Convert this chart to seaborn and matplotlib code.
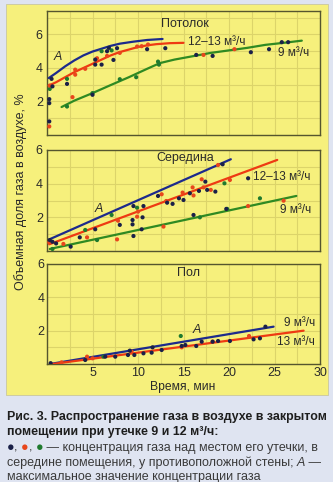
import numpy as np
import pandas as pd
import matplotlib
matplotlib.use("Agg")
import matplotlib.pyplot as plt
import seaborn as sns
from matplotlib.patches import Rectangle
from matplotlib.ticker import MultipleLocator

sns.set_theme(style="white")
plt.rcParams['font.family'] = ['Liberation Sans', 'DejaVu Sans']

# ---------------- data ----------------
# Top panel (Потолок) fitted curves
top_blue_x = [0.2, 1, 2, 3, 4, 5, 6, 7, 8, 9.5, 11, 12.7]
top_blue_y = [3.4, 3.7, 4.1, 4.45, 4.75, 4.98, 5.15, 5.32, 5.45, 5.57, 5.67, 5.73]
top_red_x = [0.2, 1, 2, 3, 4, 5, 6, 7, 8, 9, 10, 11, 12, 13.5, 15]
top_red_y = [2.95, 3.15, 3.45, 3.75, 4.0, 4.25, 4.5, 4.75, 4.95, 5.1, 5.25, 5.35, 5.42, 5.48, 5.5]
top_green_x = [1.6, 3, 5, 7, 9, 11, 12.4, 14, 16.8, 18, 20, 22, 24, 26, 28]
top_green_y = [1.67, 2.05, 2.5, 2.98, 3.45, 3.95, 4.29, 4.5, 4.78, 4.9, 5.05, 5.2, 5.38, 5.5, 5.63]

# Top panel points
top_pts_blue_x = [0.25, 0.25, 0.25, 0.5, 0.6, 2.2, 5.0, 5.3, 5.3, 6.0, 6.6, 6.8, 7.3, 7.7, 11.0, 13.0, 16.4, 18.2, 22.4, 24.4, 25.8, 26.5]
top_pts_blue_y = [2.14, 1.9, 0.81, 3.35, 2.9, 3.05, 2.4, 4.2, 4.5, 4.2, 5.0, 5.2, 4.48, 5.18, 5.12, 5.18, 4.78, 4.72, 4.94, 5.12, 5.54, 5.54]
top_pts_red_x = [0.25, 0.3, 2.8, 3.1, 3.1, 4.2, 5.5, 6.6, 8.0, 9.9, 10.4, 11.1, 17.2, 20.6]
top_pts_red_y = [0.51, 2.95, 2.26, 3.9, 3.6, 3.95, 4.58, 4.72, 4.9, 5.28, 5.3, 5.4, 4.78, 5.12]
top_pts_green_x = [0.3, 2.2, 2.2, 5.0, 6.0, 7.1, 8.0, 9.8, 12.2, 12.3]
top_pts_green_y = [2.75, 3.35, 1.7, 2.5, 5.0, 5.05, 3.33, 3.45, 4.38, 4.2]

# Middle panel (Середина) straight lines: start / end
mid_blue_x = [0.25, 20.2]
mid_blue_y = [0.69, 5.45]
mid_red_x = [0.25, 25.3]
mid_red_y = [0.4, 5.41]
mid_green_x = [0.3, 27.4]
mid_green_y = [0.12, 3.27]

mid_pts_blue_x = [0.3, 0.6, 1.0, 2.6, 3.6, 5.3, 8.0, 9.4, 9.4, 9.5, 10.4, 10.5, 9.5, 10.6, 12.2, 13.2, 13.8, 14.5, 15.0, 15.7, 16.1, 16.7, 17.4, 17.6, 18.5, 19.3, 19.7, 22.1]
mid_pts_blue_y = [0.65, 0.55, 0.45, 0.26, 0.81, 1.29, 1.55, 1.84, 1.58, 0.89, 1.29, 2.0, 2.67, 2.67, 3.27, 2.87, 2.8, 3.13, 3.03, 3.43, 2.14, 3.57, 4.12, 3.63, 3.53, 5.15, 2.5, 4.32]
mid_pts_red_x = [0.25, 1.8, 4.4, 7.7, 7.8, 9.9, 10.0, 12.8, 12.6, 13.1, 14.9, 16.0, 16.1, 17.0, 17.2, 18.0, 18.8, 20.1, 22.1, 26.0]
mid_pts_red_y = [0.5, 0.42, 0.81, 0.69, 1.8, 2.04, 2.34, 1.45, 3.37, 2.97, 3.47, 3.78, 3.3, 4.26, 3.78, 3.63, 5.11, 4.22, 2.67, 2.99]
mid_pts_green_x = [0.6, 4.2, 5.5, 7.1, 9.9, 16.8, 19.5, 19.8, 23.4]
mid_pts_green_y = [0.12, 1.25, 0.65, 2.14, 2.57, 2.0, 4.02, 2.5, 3.13]

# Bottom panel (Пол)
bot_blue_x = [0.33, 24.9]
bot_blue_y = [0.0, 2.24]
bot_red_x = [0.6, 28.2]
bot_red_y = [0.0, 2.0]

bot_pts_blue_x = [0.4, 4.2, 6.4, 7.5, 8.9, 9.1, 9.6, 10.6, 11.5, 11.6, 12.6, 14.8, 15.2, 16.4, 17.0, 18.2, 18.8, 20.1, 22.7, 23.4, 24.0]
bot_pts_blue_y = [0.05, 0.24, 0.44, 0.44, 0.54, 0.8, 0.54, 0.64, 0.68, 1.0, 0.84, 1.08, 1.14, 1.08, 1.34, 1.34, 1.38, 1.38, 1.48, 1.54, 2.24]
bot_pts_red_x = [1.6, 4.4, 5.0, 9.3, 14.8, 18.2, 22.2]
bot_pts_red_y = [0.1, 0.44, 0.34, 0.74, 1.0, 1.34, 1.68]
bot_pts_green_x = [6.2, 14.7]
bot_pts_green_y = [0.44, 1.68]

x_ticks = [5, 10, 15, 20, 25, 30]
y_ticks = [2, 4, 6]

# ---------------- style ----------------
C_BLUE = "#1c2a8c"
C_RED = "#ee3a12"
C_GREEN = "#2f8a22"
P_BLUE = "#1a2048"
P_RED = "#e8461c"
P_GREEN = "#1f7a2e"
YELLOW = "#f6f07c"
GRID = "#dcd46a"
SPINE = "#55552e"
TXT = "#2a2a2a"
CAP = "#3a3a3a"

W, H = 333, 482
fig = plt.figure(figsize=(W / 100, H / 100), dpi=100)
fig.patch.set_facecolor("#dfe4f1")
fig.patches.append(Rectangle((6 / W, 1 - 395 / H), 322 / W, 391 / H,
                             transform=fig.transFigure, facecolor=YELLOW,
                             edgecolor="#c9c7a0", linewidth=0.6, zorder=-10))


def make_ax(ytop, ybot, ylim):
    ax = fig.add_axes([47 / W, 1 - ybot / H, 273 / W, (ybot - ytop) / H])
    ax.set_facecolor(YELLOW)
    ax.set_xlim(0, 30)
    ax.set_ylim(*ylim)
    ax.set_xticks(x_ticks)
    ax.set_yticks(y_ticks)
    ax.xaxis.set_minor_locator(MultipleLocator(2.5))
    ax.yaxis.set_minor_locator(MultipleLocator(1))
    ax.grid(True, which="both", color=GRID, linewidth=0.8)
    ax.set_axisbelow(True)
    ax.tick_params(which="both", length=0, labelsize=9, colors=TXT, pad=3)
    for s in ax.spines.values():
        s.set_color(SPINE)
        s.set_linewidth(1.0)
    return ax


def line(ax, xs, ys, color):
    df = pd.DataFrame({"x": xs, "y": ys})
    sns.lineplot(data=df, x="x", y="y", ax=ax, color=color, linewidth=1.6,
                 sort=False, estimator=None, zorder=3)


def pts(ax, xs, ys, color):
    df = pd.DataFrame({"x": xs, "y": ys})
    sns.scatterplot(data=df, x="x", y="y", ax=ax, color=color, s=9,
                    edgecolor="none", zorder=4)


# top
ax1 = make_ax(11, 135, (0, 7.4))
line(ax1, top_blue_x, top_blue_y, C_BLUE)
line(ax1, top_red_x, top_red_y, C_RED)
line(ax1, top_green_x, top_green_y, C_GREEN)
pts(ax1, top_pts_green_x, top_pts_green_y, P_GREEN)
pts(ax1, top_pts_red_x, top_pts_red_y, P_RED)
pts(ax1, top_pts_blue_x, top_pts_blue_y, P_BLUE)
ax1.tick_params(labelbottom=False)

# middle
ax2 = make_ax(150, 251, (0, 6))
line(ax2, mid_blue_x, mid_blue_y, C_BLUE)
line(ax2, mid_red_x, mid_red_y, C_RED)
line(ax2, mid_green_x, mid_green_y, C_GREEN)
pts(ax2, mid_pts_green_x, mid_pts_green_y, P_GREEN)
pts(ax2, mid_pts_red_x, mid_pts_red_y, P_RED)
pts(ax2, mid_pts_blue_x, mid_pts_blue_y, P_BLUE)
ax2.tick_params(labelbottom=False)

# bottom
ax3 = make_ax(264, 364, (0, 6))
line(ax3, bot_blue_x, bot_blue_y, C_BLUE)
line(ax3, bot_red_x, bot_red_y, C_RED)
pts(ax3, bot_pts_green_x, bot_pts_green_y, P_GREEN)
pts(ax3, bot_pts_red_x, bot_pts_red_y, P_RED)
pts(ax3, bot_pts_blue_x, bot_pts_blue_y, P_BLUE)
ax3.tick_params(pad=2)

for a in (ax1, ax2, ax3):
    a.set_xlabel("")
    a.set_ylabel("")


def ftext(x, y, s, **kw):
    kw.setdefault("color", TXT)
    kw.setdefault("fontsize", 8.5)
    return fig.text(x / W, 1 - y / H, s, **kw)


# panel annotations
ftext(185, 24, "Потолок", ha="center", va="center", fontsize=9)
ftext(58, 57, "A", ha="center", va="center", fontsize=9, style="italic")
ftext(188, 42, "12–13 м³/ч", ha="left", va="center")
ftext(278, 53, "9 м³/ч", ha="left", va="center")

ftext(185, 158, "Середина", ha="center", va="center", fontsize=9)
ftext(99, 209, "A", ha="center", va="center", fontsize=9, style="italic")
ftext(253, 177, "12–13 м³/ч", ha="left", va="center")
ftext(280, 210, "9 м³/ч", ha="left", va="center")

ftext(189, 273, "Пол", ha="center", va="center", fontsize=9)
ftext(197, 330, "A", ha="center", va="center", fontsize=9, style="italic")
ftext(284, 323, "9 м³/ч", ha="left", va="center")
ftext(277, 342, "13 м³/ч", ha="left", va="center")

# axis labels
ftext(21, 192, "Объемная доля газа в воздухе, %", rotation=90,
      ha="center", va="center", fontsize=9)
ftext(183, 387, "Время, мин", ha="center", va="center", fontsize=8.7)

# caption
ftext(7, 417, "Рис. 3. Распространение газа в воздухе в закрытом",
      ha="left", va="center", fontsize=8.9, fontweight="bold", color="#1e1e1e")
ftext(7, 432, "помещении при утечке 9 и 12 м³/ч:",
      ha="left", va="center", fontsize=8.9, fontweight="bold", color="#1e1e1e")

CFS = 9.0
cap_parts = [(", ", CAP), ("●", P_RED), (", ", CAP), ("●", P_GREEN),
             (" — концентрация газа над местом его утечки, в", CAP)]
anchor = ftext(7, 451, "●", color=P_BLUE, fontsize=CFS, ha="left", va="baseline")
for s, c in cap_parts:
    anchor = ax3.annotate(s, xy=(1, 0), xycoords=anchor, va="bottom", ha="left",
                          color=c, fontsize=CFS, annotation_clip=False)

line4a = ftext(7, 466, "середине помещения, у противоположной стены; ",
               color=CAP, fontsize=CFS, ha="left", va="baseline")
a4 = ax3.annotate("A", xy=(1, 0), xycoords=line4a, va="bottom", ha="left",
                  color=CAP, fontsize=CFS, style="italic", annotation_clip=False)
ax3.annotate(" —", xy=(1, 0), xycoords=a4, va="bottom", ha="left",
             color=CAP, fontsize=CFS, annotation_clip=False)
ftext(7, 480, "максимальное значение концентрации газа", ha="left",
      va="baseline", fontsize=CFS, color=CAP)

fig.savefig("out.png", dpi=100, facecolor=fig.get_facecolor())
